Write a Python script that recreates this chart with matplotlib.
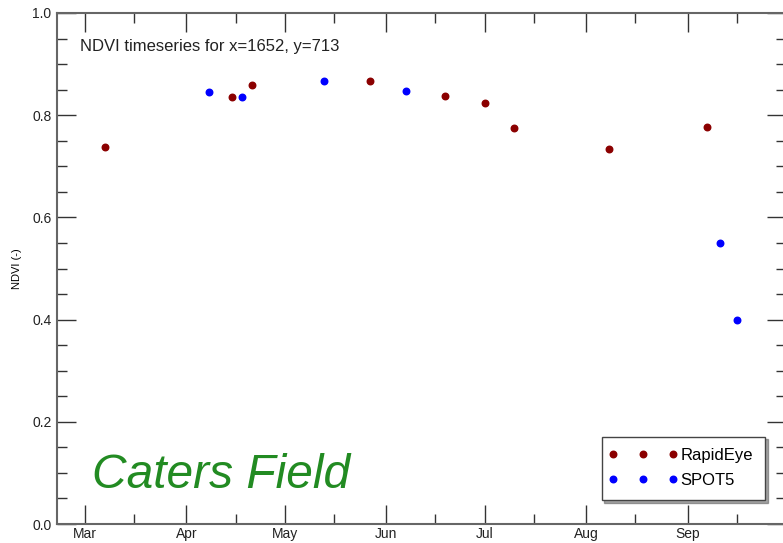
import matplotlib
matplotlib.use("Agg")
import matplotlib.pyplot as plt
from matplotlib.legend_handler import HandlerLine2D
import numpy as np
from datetime import datetime

plt.rcParams['font.family'] = ['Liberation Sans', 'DejaVu Sans']

# RapidEye acquisitions
re_dates = ["2013-03-07", "2013-04-15", "2013-04-21", "2013-05-27", "2013-06-19",
            "2013-07-01", "2013-07-10", "2013-08-08", "2013-09-07"]
re_ndvi = [0.737, 0.835, 0.860, 0.866, 0.838, 0.823, 0.775, 0.733, 0.776]

# SPOT5 acquisitions
spot_dates = ["2013-04-08", "2013-04-18", "2013-05-13", "2013-06-07", "2013-09-11", "2013-09-16"]
spot_ndvi = [0.845, 0.835, 0.866, 0.848, 0.549, 0.400]

month_labels = ["Mar", "Apr", "May", "Jun", "Jul", "Aug", "Sep"]

re_x = [datetime.strptime(d, "%Y-%m-%d") for d in re_dates]
spot_x = [datetime.strptime(d, "%Y-%m-%d") for d in spot_dates]

fig = plt.figure(figsize=(7.83, 5.43), dpi=100)
ax = fig.add_axes([57 / 783, 1 - 524 / 543, (786 - 57) / 783, (524 - 13) / 543])

l1, = ax.plot(re_x, re_ndvi, 'o', color='#8b0000', markersize=4.7, label='RapidEye')
l2, = ax.plot(spot_x, spot_ndvi, 'o', color='#0000ff', markersize=4.7, label='SPOT5')

majors = [datetime(2013, m, 1) for m in range(3, 10)]
minors = [datetime(2013, m, 16) for m in range(3, 10)]
ax.set_xticks(majors)
ax.set_xticklabels(month_labels)
ax.set_xticks(minors, minor=True)
ax.set_yticks(np.arange(0, 1.01, 0.2))
ax.set_yticklabels(["%.1f" % v for v in np.arange(0, 1.01, 0.2)])
ax.set_yticks(np.arange(0, 1.001, 0.05), minor=True)

# limits after the ticks, set_xticks can widen them
ax.set_xlim(datetime(2013, 2, 20, 12), datetime(2013, 10, 1))
ax.set_ylim(0.0, 1.0)

ax.tick_params(which='both', direction='in', top=True, right=True,
               color='#333333', width=1.0, labelsize=10, labelcolor='#222222')
ax.tick_params(which='major', length=14, pad=4)
ax.tick_params(axis='x', which='major', pad=2)
ax.tick_params(which='minor', length=7)
for s in ax.spines.values():
    s.set_color('#666666')
    s.set_linewidth(1.5)

ax.set_ylabel("NDVI (-)", fontsize=8, labelpad=7)

ax.text(0.032, 0.935, "NDVI timeseries for x=1652, y=713", transform=ax.transAxes,
        fontsize=12, color='#222222', va='center')
ax.text(0.048, 0.095, "Caters Field", transform=ax.transAxes, fontsize=34.5,
        style='italic', color='#228b22', va='center')

hm = {l1: HandlerLine2D(numpoints=3, marker_pad=0), l2: HandlerLine2D(numpoints=3, marker_pad=0)}
leg = ax.legend(loc='lower right', bbox_to_anchor=(0.971, 0.047), handler_map=hm,
                fontsize=12, frameon=True, fancybox=False, shadow=True,
                handlelength=3.6, handletextpad=0.45, borderpad=0.7,
                labelspacing=0.6, borderaxespad=0)
leg.get_frame().set_edgecolor('#444444')
leg.get_frame().set_linewidth(1.0)

fig.savefig("out.png", dpi=100)
